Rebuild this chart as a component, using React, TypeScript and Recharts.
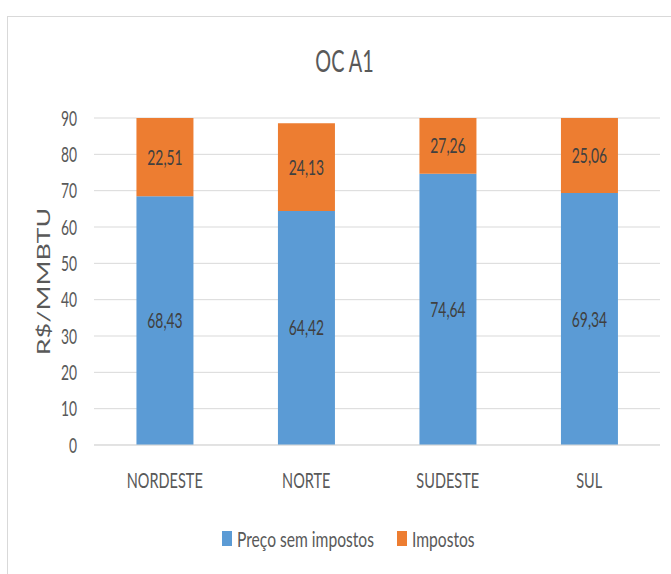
import React from 'react';
import { BarChart, Bar, XAxis, YAxis, CartesianGrid, LabelList } from 'recharts';

const CATEGORIES = ['NORDESTE', 'NORTE', 'SUDESTE', 'SUL'];
const PRECO_SEM_IMPOSTOS = [68.43, 64.42, 74.64, 69.34];
const IMPOSTOS = [22.51, 24.13, 27.26, 25.06];
const Y_TICKS = [0, 10, 20, 30, 40, 50, 60, 70, 80, 90];
const SERIES_NAMES = ['Preço sem impostos', 'Impostos'];
const TITLE = 'OC A1';
const Y_TITLE = 'R$/MMBTU';

const COLORS = ['#5B9BD5', '#ED7D31'];
const TEXT = '#595959';
const LABEL_TEXT = '#404040';
const GRID = '#D9D9D9';
const FONT = 'Lato, "Open Sans", sans-serif';
// the original picture is squeezed horizontally, so text is squeezed as well
const SQ = 0.66;

const W = 671;
const H = 574;
const PLOT_TOP = 118;
const PLOT_BOTTOM = 445;
const PLOT_LEFT = 94;
const PLOT_RIGHT = 660;

const data = CATEGORIES.map((name, i) => ({
  name,
  preco: PRECO_SEM_IMPOSTOS[i],
  impostos: IMPOSTOS[i],
}));

const fmt = (v: number) => v.toFixed(2).replace('.', ',');

function SqText({ x, y, size, fill = TEXT, anchor = 'middle', sx = SQ, children }: any) {
  return (
    <text
      transform={`translate(${x},${y}) scale(${sx},1)`}
      textAnchor={anchor}
      fontFamily={FONT}
      fontSize={size}
      fill={fill}
    >
      {children}
    </text>
  );
}

function XTick(props: any) {
  const { x, y, payload } = props;
  return (
    <SqText x={x} y={y + 43} size={22}>
      {payload.value}
    </SqText>
  );
}

function YTick(props: any) {
  const { x, y, payload } = props;
  return (
    <SqText x={x - 17} y={y + 7.5} size={21} anchor="end">
      {payload.value}
    </SqText>
  );
}

function ValueLabel(props: any) {
  const { x, y, width, height, value } = props;
  // Excel keeps the label inside the plot when the bar is cut off at the top
  const cy = Math.max(y + height / 2, PLOT_TOP + 21);
  return (
    <SqText x={x + width / 2} y={cy + 7.5} size={21} fill={LABEL_TEXT}>
      {fmt(value)}
    </SqText>
  );
}

export default function App() {
  return (
    <div
      style={{
        position: 'absolute',
        left: 0,
        top: 0,
        width: W,
        height: H,
        overflow: 'hidden',
        background: '#fff',
      }}
    >
      <div
        style={{
          position: 'absolute',
          left: 7,
          top: 16,
          width: W + 40,
          height: H + 40,
          border: `1px solid ${GRID}`,
          boxSizing: 'border-box',
        }}
      />
      <div style={{ position: 'absolute', left: 0, top: 0 }}>
        <BarChart
          width={W}
          height={H}
          data={data}
          margin={{ top: PLOT_TOP, right: W - PLOT_RIGHT, bottom: H - PLOT_BOTTOM - 40, left: 0 }}
          barCategoryGap="30%"
        >
          <CartesianGrid vertical={false} stroke={GRID} strokeWidth={1} />
          <XAxis
            dataKey="name"
            height={40}
            tickLine={false}
            tickSize={0}
            tickMargin={0}
            axisLine={{ stroke: GRID }}
            tick={<XTick />}
            interval={0}
          />
          <YAxis
            width={PLOT_LEFT}
            domain={[0, 90]}
            ticks={Y_TICKS}
            allowDataOverflow
            axisLine={false}
            tickLine={false}
            tickSize={0}
            tickMargin={0}
            tick={<YTick />}
            interval={0}
          />
          <Bar dataKey="preco" name={SERIES_NAMES[0]} stackId="a" fill={COLORS[0]} isAnimationActive={false}>
            <LabelList dataKey="preco" content={<ValueLabel />} />
          </Bar>
          <Bar dataKey="impostos" name={SERIES_NAMES[1]} stackId="a" fill={COLORS[1]} isAnimationActive={false}>
            <LabelList dataKey="impostos" content={<ValueLabel />} />
          </Bar>
        </BarChart>
      </div>
      <svg
        width={W}
        height={H}
        style={{ position: 'absolute', left: 0, top: 0, pointerEvents: 'none' }}
      >
        <SqText x={344.5} y={72} size={30}>
          {TITLE}
        </SqText>
        <text
          transform={`translate(50,${(PLOT_TOP + PLOT_BOTTOM) / 2}) scale(${SQ},1) rotate(-90)`}
          textAnchor="middle"
          fontFamily={FONT}
          fontSize={27}
          fill={TEXT}
        >
          {Y_TITLE}
        </text>
        {SERIES_NAMES.map((name, i) => {
          const left = i === 0 ? 222 : 397;
          return (
            <g key={name}>
              <rect x={left} y={531} width={10} height={15} fill={COLORS[i]} />
              <SqText x={left + 15} y={546.5} size={22} sx={0.71} anchor="start">
                {name}
              </SqText>
            </g>
          );
        })}
      </svg>
    </div>
  );
}
